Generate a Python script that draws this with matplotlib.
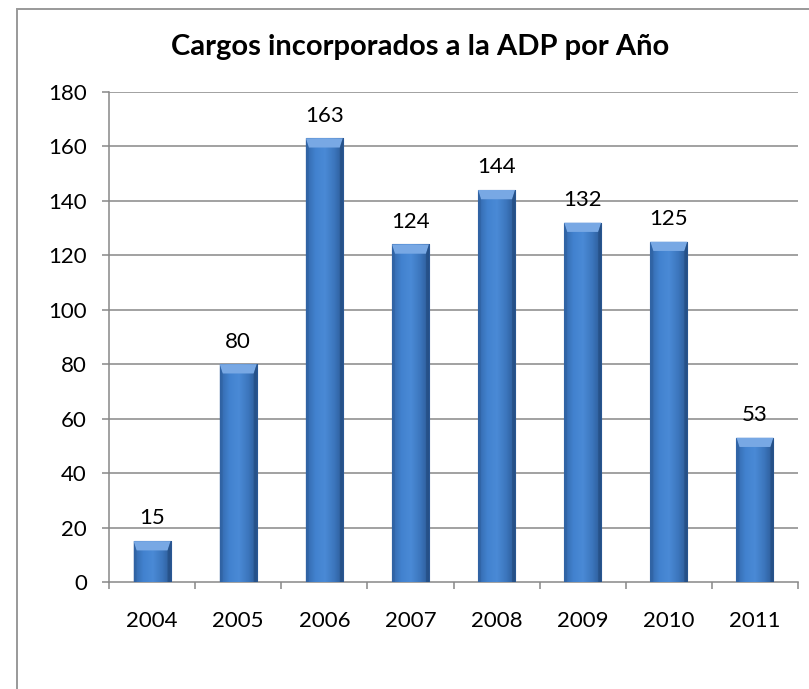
import numpy as np
import matplotlib.pyplot as plt
from matplotlib.patches import Rectangle
from matplotlib.colors import LinearSegmentedColormap

years = ["2004", "2005", "2006", "2007", "2008", "2009", "2010", "2011"]
cargos = [15, 80, 163, 124, 144, 132, 125, 53]
y_ticks = [0, 20, 40, 60, 80, 100, 120, 140, 160, 180]

title_txt = "Cargos incorporados a la ADP por Año"
font_name = ["Lato", "DejaVu Sans"]

fig = plt.figure(figsize=(8.09, 6.89), dpi=100)
ax = fig.add_axes([109 / 809, 1 - 582 / 689, (798 - 109) / 809, (582 - 92) / 689])

# chart frame (only top and left visible in reference)
fig.patches.append(Rectangle((17 / 809, -0.2), 1.2, 1.2 - 9 / 689,
                             transform=fig.transFigure, fill=False,
                             edgecolor="#999999", linewidth=1.4))

grid_col = "#888888"
ax.set_ylim(0, 180)
ax.set_xlim(-0.5, len(years) - 0.5)
ax.set_yticks(y_ticks)
ax.set_yticklabels([str(v) for v in y_ticks], fontsize=16, family=font_name)
ax.set_xticks(np.arange(len(years)))
ax.set_xticklabels(years, fontsize=16, family=font_name)
ax.set_xticks(np.arange(len(years) + 1) - 0.5, minor=True)
ax.tick_params(axis="x", which="major", length=0, pad=21)
ax.tick_params(axis="x", which="minor", length=5, color=grid_col, width=1.1)
ax.tick_params(axis="y", length=5, color=grid_col, width=1.1, pad=11)
for y in y_ticks[1:]:
    ax.axhline(y, color=grid_col, linewidth=1.1, zorder=0)
for s in ["top", "right"]:
    ax.spines[s].set_visible(False)
for s in ["left", "bottom"]:
    ax.spines[s].set_color(grid_col)
    ax.spines[s].set_linewidth(1.1)

bar_w = 0.43
x = np.arange(len(years))
bars = ax.bar(x, cargos, width=bar_w, color="#3b73b9", edgecolor="#2c5a94",
              linewidth=0.8, zorder=2)

cmap = LinearSegmentedColormap.from_list(
    "b", ["#3368ab", "#4282cf", "#4a8ad6", "#3c76bd", "#2a5792"])
grad = np.linspace(0, 1, 100).reshape(1, -1)
bevel = 3.4
side = 0.035
for xi, v, b in zip(x, cargos, bars):
    im = ax.imshow(grad, cmap=cmap, aspect="auto", zorder=3,
                   extent=(xi - bar_w / 2, xi + bar_w / 2, 0, v))
    im.set_clip_path(b)
    # lighter bevel on top
    ax.fill([xi - bar_w / 2, xi + bar_w / 2, xi + bar_w / 2 - side, xi - bar_w / 2 + side],
            [v, v, v - bevel, v - bevel], color="#78a8e4", zorder=4, linewidth=0)
    ax.fill([xi - bar_w / 2, xi - bar_w / 2 + side, xi - bar_w / 2 + side, xi - bar_w / 2],
            [v, v - bevel, 0, 0], color="#2d5c99", alpha=0.45, zorder=4, linewidth=0)
    ax.fill([xi + bar_w / 2, xi + bar_w / 2 - side, xi + bar_w / 2 - side, xi + bar_w / 2],
            [v, v - bevel, 0, 0], color="#1f4677", alpha=0.5, zorder=4, linewidth=0)
    ax.annotate(str(v), (xi, v), xytext=(0, 12), textcoords="offset points",
                ha="center", va="baseline", fontsize=16, family=font_name)

fig.text(420 / 809, 1 - 55 / 689, title_txt, ha="center", va="baseline",
         fontsize=21, fontweight="bold", family=font_name)

fig.savefig("out.png", dpi=100)
